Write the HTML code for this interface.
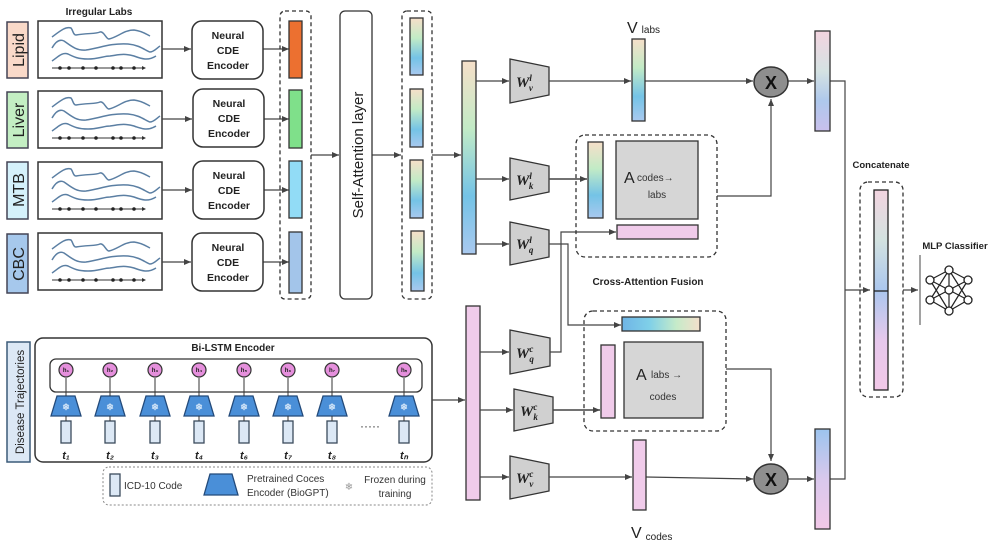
<!DOCTYPE html>
<html><head><meta charset="utf-8"><style>
html,body{margin:0;padding:0;background:#fff;}
svg{display:block;font-family:"Liberation Sans",sans-serif;}
</style></head><body>
<svg width="997" height="552" viewBox="0 0 997 552" xmlns="http://www.w3.org/2000/svg">
<defs>
<linearGradient id="lab" x1="0" y1="0" x2="0" y2="1">
<stop offset="0" stop-color="#f6dfc9"/><stop offset="0.35" stop-color="#c2ebc6"/><stop offset="0.7" stop-color="#74c3e6"/><stop offset="1" stop-color="#a9c9ef"/></linearGradient>
<linearGradient id="labh" x1="0" y1="0" x2="1" y2="0">
<stop offset="0" stop-color="#6fb4e6"/><stop offset="0.35" stop-color="#7fd0e8"/><stop offset="0.7" stop-color="#c6ebc9"/><stop offset="1" stop-color="#f4dfcb"/></linearGradient>
<linearGradient id="out1" x1="0" y1="0" x2="0" y2="1">
<stop offset="0" stop-color="#f3d4e0"/><stop offset="0.4" stop-color="#d5e2e2"/><stop offset="0.7" stop-color="#aec8ec"/><stop offset="1" stop-color="#c9c0ec"/></linearGradient>
<linearGradient id="out2" x1="0" y1="0" x2="0" y2="1">
<stop offset="0" stop-color="#9cc4ee"/><stop offset="0.5" stop-color="#d9c8ec"/><stop offset="1" stop-color="#f2c8e8"/></linearGradient>
<linearGradient id="cat" x1="0" y1="0" x2="0" y2="1">
<stop offset="0" stop-color="#f3d4e0"/><stop offset="0.25" stop-color="#d3e2e0"/><stop offset="0.5" stop-color="#abc7ee"/><stop offset="0.75" stop-color="#e6c8ec"/><stop offset="1" stop-color="#f2c8e8"/></linearGradient>
<marker id="ar" markerWidth="8" markerHeight="8" refX="7" refY="4" orient="auto" markerUnits="userSpaceOnUse"><path d="M0,1 L7,4 L0,7 z" fill="#444"/></marker>
<g id="plot">
<rect x="0" y="0" width="124" height="57" fill="#fff" stroke="#333" stroke-width="1.5"/>
<path d="M14,16 C22,10 28,5 33,7 C35,9 35,14 38,14 C50,12 58,13 62,11 C66,10 68,18 71,18 C80,16 86,9 96,9 C104,10 108,13 112,15" fill="none" stroke="#5b7fa3" stroke-width="1.5"/>
<path d="M14,27 C18,20 22,18 26,20 C32,24 38,30 48,29 C62,27 72,22 90,23 C102,24 108,30 112,31 C116,31 119,27 122,25" fill="none" stroke="#5b7fa3" stroke-width="1.5"/>
<path d="M14,40 C20,36 24,31 30,33 C36,36 40,38 50,38 C60,38 66,35 72,35 C80,34 86,32 96,35 C104,38 110,40 118,35" fill="none" stroke="#5b7fa3" stroke-width="1.5"/>
<line x1="14" y1="47" x2="106" y2="47" stroke="#333" stroke-width="1"/>
<path d="M104,45 L108,47 L104,49z" fill="#333"/>
<g fill="#222"><circle cx="22" cy="47" r="1.8"/><circle cx="31" cy="47" r="1.8"/><circle cx="45" cy="47" r="1.8"/><circle cx="58" cy="47" r="1.8"/><circle cx="75" cy="47" r="1.8"/><circle cx="83" cy="47" r="1.8"/><circle cx="96" cy="47" r="1.8"/></g>
</g>
<g id="cde">
<rect x="0" y="0" width="71" height="58" rx="10" fill="#fff" stroke="#333" stroke-width="1.5"/>
<text x="36" y="18" font-size="10.5" font-weight="bold" text-anchor="middle" fill="#222">Neural</text>
<text x="36" y="33" font-size="10.5" font-weight="bold" text-anchor="middle" fill="#222">CDE</text>
<text x="36" y="48" font-size="10.5" font-weight="bold" text-anchor="middle" fill="#222">Encoder</text>
</g>
<g id="enc">
<path d="M-15,20 L-9,0 L9,0 L15,20 z" fill="#4a8fd8" stroke="#234a7a" stroke-width="1.3"/>
<text x="0" y="14" font-size="9" text-anchor="middle" fill="#cfe3f7">❄</text>
<rect x="-5" y="25" width="10" height="22" fill="#dce8f5" stroke="#3b4b5c" stroke-width="1.3"/>
<line x1="0" y1="0" x2="0" y2="-3" stroke="#333"/>
<line x1="0" y1="25" x2="0" y2="20" stroke="#333"/>
</g>
</defs>

<rect x="7" y="22" width="21" height="56" fill="#f9d9c9" stroke="#445" stroke-width="1.5"/>
<text transform="translate(24,50) rotate(-90)" font-size="16" text-anchor="middle" fill="#222">Lipid</text>
<rect x="7" y="92" width="21" height="56" fill="#c3eec3" stroke="#445" stroke-width="1.5"/>
<text transform="translate(24,120) rotate(-90)" font-size="16" text-anchor="middle" fill="#222">Liver</text>
<rect x="7" y="162" width="21" height="57" fill="#d5f1fb" stroke="#445" stroke-width="1.5"/>
<text transform="translate(24,190) rotate(-90)" font-size="16" text-anchor="middle" fill="#222">MTB</text>
<rect x="7" y="234" width="21" height="59" fill="#a6c8ec" stroke="#445" stroke-width="1.5"/>
<text transform="translate(24,264) rotate(-90)" font-size="16" text-anchor="middle" fill="#222">CBC</text>

<text x="99" y="15" font-size="10" font-weight="bold" text-anchor="middle" fill="#222">Irregular Labs</text>
<use href="#plot" x="38" y="21"/>
<use href="#plot" x="38" y="91"/>
<use href="#plot" x="38" y="162"/>
<use href="#plot" x="38" y="233"/>

<g stroke="#444" stroke-width="1.2" fill="none">
<line x1="162" y1="49" x2="191" y2="49" marker-end="url(#ar)"/>
<line x1="162" y1="119" x2="192" y2="119" marker-end="url(#ar)"/>
<line x1="162" y1="190" x2="192" y2="190" marker-end="url(#ar)"/>
<line x1="162" y1="262" x2="191" y2="262" marker-end="url(#ar)"/>
<line x1="263" y1="49" x2="289" y2="49" marker-end="url(#ar)"/>
<line x1="264" y1="119" x2="289" y2="119" marker-end="url(#ar)"/>
<line x1="264" y1="190" x2="289" y2="190" marker-end="url(#ar)"/>
<line x1="263" y1="262" x2="289" y2="262" marker-end="url(#ar)"/>
<line x1="311" y1="155" x2="339" y2="155" marker-end="url(#ar)"/>
<line x1="372" y1="155" x2="401" y2="155" marker-end="url(#ar)"/>
<line x1="432" y1="155" x2="461" y2="155" marker-end="url(#ar)"/>
</g>
<use href="#cde" x="192" y="21"/>
<use href="#cde" x="193" y="89"/>
<use href="#cde" x="193" y="161"/>
<use href="#cde" x="192" y="233"/>

<rect x="280" y="11" width="31" height="288" rx="5" fill="none" stroke="#333" stroke-width="1.3" stroke-dasharray="4,3"/>
<rect x="289" y="21" width="13" height="57" fill="#ec7030" stroke="#333" stroke-width="1.3"/>
<rect x="289" y="90" width="13" height="58" fill="#7fe08a" stroke="#333" stroke-width="1.3"/>
<rect x="289" y="161" width="13" height="57" fill="#92dcf6" stroke="#333" stroke-width="1.3"/>
<rect x="289" y="232" width="13" height="61" fill="#a3c5ea" stroke="#333" stroke-width="1.3"/>

<rect x="340" y="11" width="32" height="288" rx="5" fill="#fff" stroke="#333" stroke-width="1.3"/>
<text transform="translate(363,155) rotate(-90)" font-size="15" text-anchor="middle" fill="#222">Self-Attention layer</text>

<rect x="402" y="11" width="30" height="288" rx="5" fill="none" stroke="#333" stroke-width="1.3" stroke-dasharray="4,3"/>
<rect x="410" y="18" width="13" height="57" fill="url(#lab)" stroke="#333" stroke-width="1.3"/>
<rect x="410" y="89" width="13" height="58" fill="url(#lab)" stroke="#333" stroke-width="1.3"/>
<rect x="410" y="160" width="13" height="58" fill="url(#lab)" stroke="#333" stroke-width="1.3"/>
<rect x="411" y="231" width="13" height="60" fill="url(#lab)" stroke="#333" stroke-width="1.3"/>

<rect x="7" y="342" width="23" height="120" fill="#dce8f5" stroke="#3b5a78" stroke-width="1.5"/>
<text transform="translate(24,402) rotate(-90)" font-size="11.5" text-anchor="middle" fill="#222">Disease Trajectories</text>
<rect x="35" y="338" width="397" height="124" rx="8" fill="#fff" stroke="#333" stroke-width="1.5"/>
<text x="233" y="351" font-size="10" font-weight="bold" text-anchor="middle" fill="#222">Bi-LSTM Encoder</text>
<rect x="50" y="359" width="372" height="33" rx="6" fill="none" stroke="#333" stroke-width="1.3"/>
<g font-size="6" text-anchor="middle" font-weight="bold" fill="#222">
<g><use href="#enc" x="66" y="396"/><circle cx="66" cy="370" r="7" fill="#e58fdc" stroke="#333" stroke-width="1.2"/><text x="66" y="372">h₁</text><line x1="66" y1="393" x2="66" y2="378" stroke="#333"/></g>
<g><use href="#enc" x="110" y="396"/><circle cx="110" cy="370" r="7" fill="#e58fdc" stroke="#333" stroke-width="1.2"/><text x="110" y="372">h₂</text><line x1="110" y1="393" x2="110" y2="378" stroke="#333"/></g>
<g><use href="#enc" x="155" y="396"/><circle cx="155" cy="370" r="7" fill="#e58fdc" stroke="#333" stroke-width="1.2"/><text x="155" y="372">h₃</text><line x1="155" y1="393" x2="155" y2="378" stroke="#333"/></g>
<g><use href="#enc" x="199" y="396"/><circle cx="199" cy="370" r="7" fill="#e58fdc" stroke="#333" stroke-width="1.2"/><text x="199" y="372">h₄</text><line x1="199" y1="393" x2="199" y2="378" stroke="#333"/></g>
<g><use href="#enc" x="244" y="396"/><circle cx="244" cy="370" r="7" fill="#e58fdc" stroke="#333" stroke-width="1.2"/><text x="244" y="372">h₅</text><line x1="244" y1="393" x2="244" y2="378" stroke="#333"/></g>
<g><use href="#enc" x="288" y="396"/><circle cx="288" cy="370" r="7" fill="#e58fdc" stroke="#333" stroke-width="1.2"/><text x="288" y="372">h₆</text><line x1="288" y1="393" x2="288" y2="378" stroke="#333"/></g>
<g><use href="#enc" x="332" y="396"/><circle cx="332" cy="370" r="7" fill="#e58fdc" stroke="#333" stroke-width="1.2"/><text x="332" y="372">h₇</text><line x1="332" y1="393" x2="332" y2="378" stroke="#333"/></g>
<g><use href="#enc" x="404" y="396"/><circle cx="404" cy="370" r="7" fill="#e58fdc" stroke="#333" stroke-width="1.2"/><text x="404" y="372">hₙ</text><line x1="404" y1="393" x2="404" y2="378" stroke="#333"/></g>
</g>
<g font-size="11" font-weight="bold" font-style="italic" fill="#222" text-anchor="middle">
<text x="66" y="459">t₁</text><text x="110" y="459">t₂</text><text x="155" y="459">t₃</text><text x="199" y="459">t₄</text><text x="244" y="459">t₆</text><text x="288" y="459">t₇</text><text x="332" y="459">t₈</text><text x="404" y="459">tₙ</text>
</g>
<text x="370" y="430" font-size="12" text-anchor="middle" fill="#333">·····</text>

<rect x="103" y="467" width="329" height="38" rx="6" fill="none" stroke="#888" stroke-width="1" stroke-dasharray="2,2"/>
<rect x="110" y="474" width="10" height="22" fill="#dce8f5" stroke="#3b4b5c" stroke-width="1.3"/>
<text x="124" y="489" font-size="10" fill="#333">ICD-10 Code</text>
<path d="M204,495 L210,474 L232,474 L238,495 z" fill="#4a8fd8" stroke="#234a7a" stroke-width="1.3"/>
<text x="247" y="482" font-size="10" fill="#333">Pretrained Coces</text>
<text x="247" y="496" font-size="10" fill="#333">Encoder (BioGPT)</text>
<text x="349" y="490" font-size="10" fill="#999" text-anchor="middle">❄</text>
<text x="395" y="483" font-size="10" fill="#333" text-anchor="middle">Frozen during</text>
<text x="395" y="497" font-size="10" fill="#333" text-anchor="middle">training</text>

<line x1="432" y1="400" x2="465" y2="400" stroke="#444" stroke-width="1.2" marker-end="url(#ar)"/>

<rect x="462" y="61" width="14" height="193" fill="url(#lab)" stroke="#333" stroke-width="1.3"/>
<rect x="466" y="306" width="14" height="194" fill="#f0cbea" stroke="#333" stroke-width="1.3"/>

<g fill="#d0d0d0" stroke="#333" stroke-width="1.3">
<path d="M510,59 L549,67 L549,95 L510,103 z"/>
<path d="M510,158 L549,166 L549,192 L510,200 z"/>
<path d="M510,222 L549,230 L549,257 L510,265 z"/>
<path d="M510,330 L550,338 L550,366 L510,374 z"/>
<path d="M514,389 L553,397 L553,423 L514,431 z"/>
<path d="M510,456 L549,464 L549,491 L510,499 z"/>
</g>
<g font-family="Liberation Serif,serif" font-weight="bold" font-style="italic" font-size="15" fill="#222">
<text x="516" y="87">W<tspan font-size="9" dy="-6">l</tspan><tspan font-size="9" dx="-3" dy="10">v</tspan></text>
<text x="516" y="185">W<tspan font-size="9" dy="-6">l</tspan><tspan font-size="9" dx="-3" dy="10">k</tspan></text>
<text x="516" y="249">W<tspan font-size="9" dy="-6">l</tspan><tspan font-size="9" dx="-3" dy="10">q</tspan></text>
<text x="516" y="358">W<tspan font-size="9" dy="-6">c</tspan><tspan font-size="9" dx="-4" dy="10">q</tspan></text>
<text x="520" y="416">W<tspan font-size="9" dy="-6">c</tspan><tspan font-size="9" dx="-4" dy="10">k</tspan></text>
<text x="516" y="483">W<tspan font-size="9" dy="-6">c</tspan><tspan font-size="9" dx="-4" dy="10">v</tspan></text>
</g>

<g stroke="#444" stroke-width="1.2" fill="none">
<line x1="476" y1="81" x2="509" y2="81" marker-end="url(#ar)"/>
<line x1="476" y1="179" x2="509" y2="179" marker-end="url(#ar)"/>
<line x1="476" y1="244" x2="509" y2="244" marker-end="url(#ar)"/>
<line x1="480" y1="352" x2="509" y2="352" marker-end="url(#ar)"/>
<line x1="480" y1="410" x2="513" y2="410" marker-end="url(#ar)"/>
<line x1="480" y1="477" x2="509" y2="477" marker-end="url(#ar)"/>
<line x1="549" y1="81" x2="631" y2="81" marker-end="url(#ar)"/>
<line x1="645" y1="81" x2="753" y2="81" marker-end="url(#ar)"/>
<line x1="788" y1="81" x2="814" y2="81" marker-end="url(#ar)"/>
<line x1="549" y1="179" x2="587" y2="179" marker-end="url(#ar)" stroke-width="1.6"/>
<polyline points="549,244 568,244 568,325 621,325" marker-end="url(#ar)"/>
<polyline points="550,352 561,352 561,232 616,232" marker-end="url(#ar)"/>
<line x1="553" y1="410" x2="600" y2="410" marker-end="url(#ar)" stroke-width="1.6"/>
<polyline points="717,196 771,196 771,99" marker-end="url(#ar)"/>
<polyline points="726,369 771,369 771,461" marker-end="url(#ar)"/>
<line x1="549" y1="477" x2="632" y2="477" marker-end="url(#ar)"/>
<line x1="646" y1="477" x2="753" y2="479" marker-end="url(#ar)"/>
<line x1="788" y1="479" x2="814" y2="479" marker-end="url(#ar)"/>
<polyline points="830,81 845,81 845,479 830,479"/>
<line x1="845" y1="290" x2="870" y2="290" marker-end="url(#ar)"/>
<line x1="903" y1="290" x2="918" y2="290" marker-end="url(#ar)"/>
<line x1="920" y1="255" x2="920" y2="325" stroke-width="1"/>
</g>

<rect x="632" y="39" width="13" height="82" fill="url(#lab)" stroke="#333" stroke-width="1.3"/>
<text x="627" y="33" font-size="16" fill="#222">V<tspan font-size="10" dx="4">labs</tspan></text>
<rect x="633" y="440" width="13" height="70" fill="#f0cbea" stroke="#333" stroke-width="1.3"/>
<text x="631" y="538" font-size="16" fill="#222">V<tspan font-size="10" dx="4" dy="2">codes</tspan></text>

<ellipse cx="771" cy="82" rx="17" ry="15" fill="#8e8e8e" stroke="#333" stroke-width="1.5"/>
<text x="771" y="89" font-size="18" font-weight="bold" text-anchor="middle" fill="#111">X</text>
<ellipse cx="771" cy="479" rx="17" ry="15" fill="#8e8e8e" stroke="#333" stroke-width="1.5"/>
<text x="771" y="486" font-size="18" font-weight="bold" text-anchor="middle" fill="#111">X</text>

<rect x="815" y="31" width="15" height="100" fill="url(#out1)" stroke="#333" stroke-width="1.3"/>
<rect x="815" y="429" width="15" height="100" fill="url(#out2)" stroke="#333" stroke-width="1.3"/>

<rect x="576" y="135" width="141" height="122" rx="9" fill="none" stroke="#333" stroke-width="1.3" stroke-dasharray="4,3"/>
<rect x="588" y="142" width="15" height="76" fill="url(#lab)" stroke="#333" stroke-width="1.3"/>
<rect x="616" y="141" width="82" height="78" fill="#d6d6d6" stroke="#333" stroke-width="1.3"/>
<text x="624" y="183" font-size="16" fill="#222">A</text>
<text x="637" y="181" font-size="10" fill="#333">codes→</text>
<text x="657" y="198" font-size="10" fill="#333" text-anchor="middle">labs</text>
<rect x="617" y="225" width="81" height="14" fill="#f0cbea" stroke="#333" stroke-width="1.3"/>
<text x="648" y="285" font-size="10" font-weight="bold" text-anchor="middle" fill="#222">Cross-Attention Fusion</text>

<rect x="584" y="311" width="142" height="120" rx="9" fill="none" stroke="#333" stroke-width="1.3" stroke-dasharray="4,3"/>
<rect x="622" y="317" width="78" height="14" fill="url(#labh)" stroke="#333" stroke-width="1.3"/>
<rect x="601" y="345" width="14" height="73" fill="#f0cbea" stroke="#333" stroke-width="1.3"/>
<rect x="624" y="342" width="79" height="76" fill="#d6d6d6" stroke="#333" stroke-width="1.3"/>
<text x="636" y="380" font-size="16" fill="#222">A</text>
<text x="651" y="378" font-size="10" fill="#333">labs →</text>
<text x="663" y="400" font-size="10" fill="#333" text-anchor="middle">codes</text>

<text x="881" y="168" font-size="9.5" font-weight="bold" text-anchor="middle" fill="#222">Concatenate</text>
<rect x="860" y="182" width="43" height="215" rx="8" fill="none" stroke="#333" stroke-width="1.3" stroke-dasharray="4,3"/>
<rect x="874" y="190" width="14" height="200" fill="url(#cat)" stroke="#222" stroke-width="1.3"/>
<line x1="874" y1="291" x2="888" y2="291" stroke="#222" stroke-width="1.3"/>

<text x="955" y="249" font-size="9.5" font-weight="bold" text-anchor="middle" fill="#222">MLP Classifier</text>
<g stroke="#222" stroke-width="1.2" fill="none">
<line x1="949" y1="270" x2="930" y2="280"/><line x1="949" y1="270" x2="968" y2="280"/><line x1="949" y1="270" x2="930" y2="300"/><line x1="949" y1="270" x2="968" y2="300"/><line x1="949" y1="270" x2="949" y2="290"/>
<line x1="949" y1="311" x2="930" y2="280"/><line x1="949" y1="311" x2="968" y2="280"/><line x1="949" y1="311" x2="930" y2="300"/><line x1="949" y1="311" x2="968" y2="300"/><line x1="949" y1="311" x2="949" y2="290"/>
<line x1="930" y1="280" x2="968" y2="300"/><line x1="930" y1="300" x2="968" y2="280"/>
</g>
<g fill="#fff" stroke="#222" stroke-width="1.3">
<circle cx="949" cy="270" r="4"/><circle cx="930" cy="280" r="4"/><circle cx="930" cy="300" r="4"/><circle cx="949" cy="290" r="4"/><circle cx="968" cy="280" r="4"/><circle cx="968" cy="300" r="4"/><circle cx="949" cy="311" r="4"/>
</g>
</svg>
</body></html>
